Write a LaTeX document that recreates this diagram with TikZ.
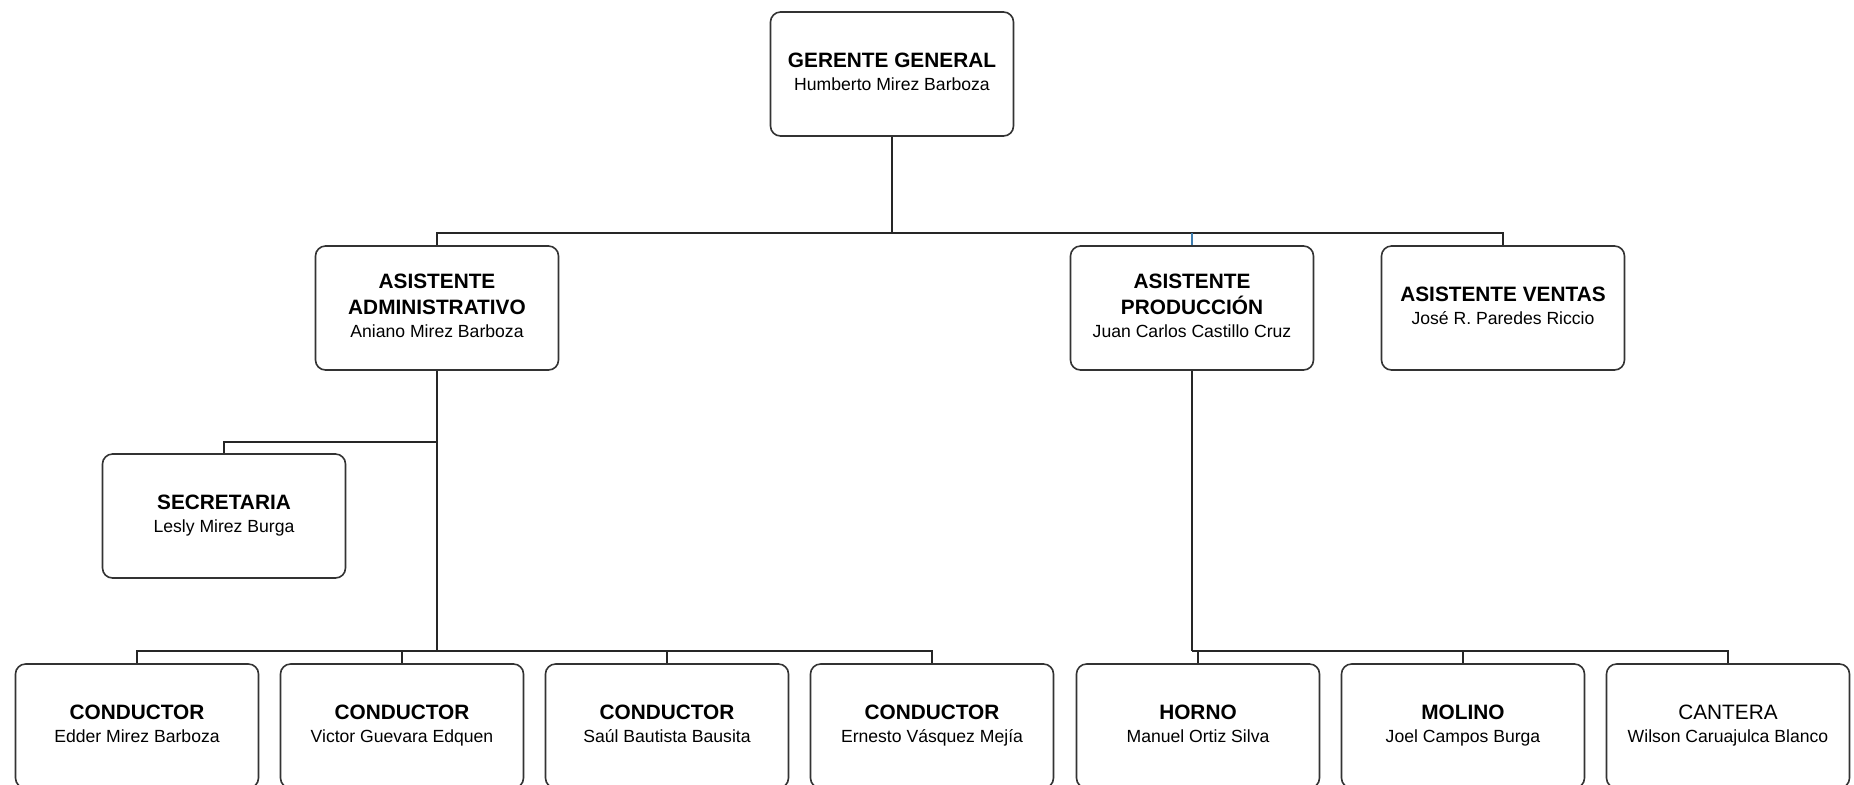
\documentclass[tikz,border=0pt]{standalone}
\usepackage{fontspec}
\setmainfont{Liberation Sans}
\usetikzlibrary{positioning}

\definecolor{rama}{RGB}{62,125,175}
\newcommand{\nombre}[1]{{\fontsize{8.8}{11}\mdseries\selectfont #1\vphantom{gy}}}

\tikzset{
  puesto/.style={draw=black!80, line width=0.8pt, rounded corners=5pt, fill=white,
    minimum width=121.5pt, minimum height=62pt, inner sep=2pt, align=center,
    font=\fontsize{10.4}{13}\selectfont\bfseries},
  linea/.style={draw=black!85, line width=0.9pt}
}

\begin{document}
\begin{tikzpicture}[x=0.5pt, y=-0.5pt]
  \useasboundingbox (0,0) rectangle (1854,784);

  % Jefaturas
  \node[puesto] (gerente) at (892,74) {GERENTE GENERAL\\[-1.5pt]\nombre{Humberto Mirez Barboza}};
  \node[puesto] (admin) at (437,308) {ASISTENTE\\ADMINISTRATIVO\\[-1.5pt]\nombre{Aniano Mirez Barboza}};
  \node[puesto] (prod) at (1192,308) {ASISTENTE\\PRODUCCIÓN\\[-1.5pt]\nombre{Juan Carlos Castillo Cruz}};
  \node[puesto] (ventas) at (1503,308) {ASISTENTE VENTAS\\[-1.5pt]\nombre{José R. Paredes Riccio}};
  \node[puesto] (secre) at (224,516) {SECRETARIA\\[-1.5pt]\nombre{Lesly Mirez Burga}};

  % Fila inferior
  \node[puesto] (cond1) at (137,726) {CONDUCTOR\\[-1.5pt]\nombre{Edder Mirez Barboza}};
  \node[puesto, right=10.2pt of cond1] (cond2) {CONDUCTOR\\[-1.5pt]\nombre{Victor Guevara Edquen}};
  \node[puesto, right=10.2pt of cond2] (cond3) {CONDUCTOR\\[-1.5pt]\nombre{Saúl Bautista Bausita}};
  \node[puesto, right=10.2pt of cond3] (cond4) {CONDUCTOR\\[-1.5pt]\nombre{Ernesto Vásquez Mejía}};
  \node[puesto, right=10.7pt of cond4] (horno) {HORNO\\[-1.5pt]\nombre{Manuel Ortiz Silva}};
  \node[puesto, right=10.2pt of horno] (molino) {MOLINO\\[-1.5pt]\nombre{Joel Campos Burga}};
  \node[puesto, right=10.2pt of molino] (cantera) {\mdseries CANTERA\\[-1.5pt]\nombre{Wilson Caruajulca Blanco}};

  % Barras de union
  \coordinate (busA) at (892,233);
  \coordinate (ramaS) at (437,442);
  \coordinate (busB) at (437,651);
  \coordinate (busC) at (1192,651);

  \draw[linea] (gerente.south) -- (busA);
  \draw[linea] (busA) -| (admin.north);
  \draw[linea] (busA) -| (ventas.north);
  \draw[draw=rama, line width=0.9pt] (prod.north |- busA) -- (prod.north);

  \draw[linea] (admin.south) -- (busB);
  \draw[linea] (ramaS) -| (secre.north);
  \foreach \n in {cond1,cond2,cond3,cond4}
    \draw[linea] (busB) -| (\n.north);

  \draw[linea] (prod.south) -- (busC);
  \foreach \n in {horno,molino,cantera}
    \draw[linea] (busC) -| (\n.north);
\end{tikzpicture}
\end{document}
